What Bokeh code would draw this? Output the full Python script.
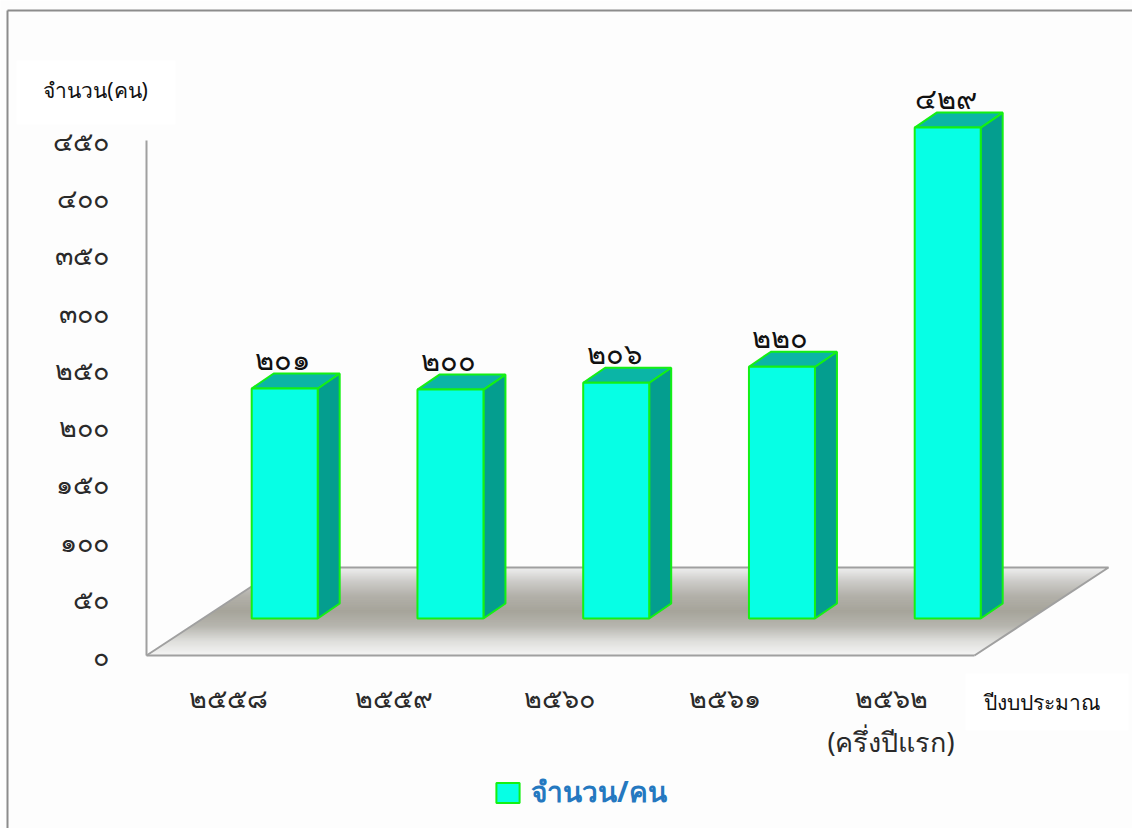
from bokeh.plotting import figure
from bokeh.embed import file_html
from bokeh.resources import INLINE
from bokeh.models import Range1d, FixedTicker, Legend, LegendItem, ColumnDataSource
from bokeh.core.properties import value as V

categories = ["๒๕๕๘", "๒๕๕๙", "๒๕๖๐", "๒๕๖๑", "๒๕๖๒\n(ครึ่งปีแรก)"]
counts = [201, 200, 206, 220, 429]
count_labels = ["๒๐๑", "๒๐๐", "๒๐๖", "๒๒๐", "๔๒๙"]
y_ticks = [0, 50, 100, 150, 200, 250, 300, 350, 400, 450]
y_tick_labels = ["๐", "๕๐", "๑๐๐", "๑๕๐", "๒๐๐", "๒๕๐", "๓๐๐", "๓๕๐", "๔๐๐", "๔๕๐"]
y_title = "จำนวน(คน)"
x_title = "ปีงบประมาณ"
legend_label = "จำนวน/คน"

FONT = "Noto Sans"
ORG_X, ORG_Y = 0, 0
W, H = 1132, 828
PX_X = 165.75      # pixels per category
PX_Y = 1.1444      # pixels per person
X0 = 227.5         # page x of first category label
Y0 = 655.0         # page y of value 0


def fx(px):
    return (px - X0) / PX_X


def fy(px):
    return (Y0 - px) / PX_Y


p = figure(width=W, height=H, output_backend="svg", toolbar_location=None,
           x_range=Range1d(fx(ORG_X), fx(ORG_X + W)), y_range=Range1d(fy(ORG_Y + H), fy(ORG_Y)),
           min_border=0, min_border_left=0, min_border_right=0, min_border_top=0, min_border_bottom=0)
p.grid.visible = False
p.outline_line_color = None
p.background_fill_color = "#fdfdfd"
p.border_fill_color = "#fdfdfd"

# page frame
p.line([fx(7), fx(7)], [fy(828), fy(10)], line_color="#8c8c8c", line_width=2)
p.line([fx(7), fx(1132)], [fy(10), fy(10)], line_color="#8c8c8c", line_width=2)

# white panels behind the axis titles
p.quad(left=[fx(16)], right=[fx(175)], top=[fy(60)], bottom=[fy(124)], fill_color="#ffffff", line_color=None)
p.quad(left=[fx(965)], right=[fx(1128)], top=[fy(673)], bottom=[fy(730)], fill_color="#ffffff", line_color=None)

# floor with vertical gradient, drawn as thin slices
stops = [(567, (238, 238, 238)), (580, (205, 204, 201)), (595, (178, 176, 169)), (610, (166, 164, 154)),
         (625, (182, 181, 174)), (640, (222, 222, 219)), (655, (246, 246, 246))]


def floor_colour(y):
    for (a, ca), (b, cb) in zip(stops, stops[1:]):
        if a <= y <= b:
            t = (y - a) / (b - a)
            return "#%02x%02x%02x" % tuple(round(u + (v - u) * t) for u, v in zip(ca, cb))
    return "#ffffff"


SK = 134 / 88
xs, ys, cs = [], [], []
for py in range(567, 655):
    left_top = 146 + (655 - py) * SK
    left_bot = 146 + (655 - py - 1) * SK
    right_top = 974 + (655 - py) * SK
    right_bot = 974 + (655 - py - 1) * SK
    xs.append([fx(left_top), fx(right_top), fx(right_bot), fx(left_bot)])
    ys.append([fy(py), fy(py), fy(py + 1.4), fy(py + 1.4)])
    cs.append(floor_colour(py))
p.patches(xs, ys, fill_color=cs, line_color=None)
p.line([fx(146), fx(280), fx(1108), fx(974)], [fy(655), fy(567), fy(567), fy(655)],
       line_color="#a0a0a0", line_width=2)

# bars
BASE = fy(618)
OFF = (284.2 - X0) / PX_X
HALF = 33.0 / PX_X
DX = 22 / PX_X
DY = 15 / PX_Y
centres = [i + OFF for i in range(len(counts))]
tops = [BASE + c for c in counts]
EDGE = "#14f014"
side_x = [[c + HALF, c + HALF + DX, c + HALF + DX, c + HALF] for c in centres]
side_y = [[BASE, BASE + DY, t + DY, t] for t in tops]
top_x = [[c - HALF, c - HALF + DX, c + HALF + DX, c + HALF] for c in centres]
top_y = [[t, t + DY, t + DY, t] for t in tops]
p.patches(side_x, side_y, fill_color="#049e8f", line_color=EDGE, line_width=2)
p.patches(top_x, top_y, fill_color="#0bb5a6", line_color=EDGE, line_width=2)
front = p.quad(left=[c - HALF for c in centres], right=[c + HALF for c in centres],
               top=tops, bottom=[BASE] * len(counts),
               fill_color="#06ffe5", line_color=EDGE, line_width=2)

src = ColumnDataSource(dict(x=[c - 2 / PX_X for c in centres], y=[t + DY + 15 / PX_Y for t in tops], t=count_labels))
p.text("x", "y", text="t", source=src, text_align="center", text_baseline="middle",
       text_font=V(FONT), text_font_size="29px", text_color="#111111")

# axes placed at the chart's own corner
p.yaxis.fixed_location = fx(146)
p.yaxis.bounds = (0, 450)
p.yaxis.ticker = FixedTicker(ticks=y_ticks)
p.yaxis.major_label_overrides = dict(zip(y_ticks, y_tick_labels))
p.yaxis.axis_line_color = "#a0a0a0"
p.yaxis.axis_line_width = 2
p.yaxis.major_tick_line_color = None
p.yaxis.minor_tick_line_color = None
p.yaxis.major_label_standoff = 32
p.yaxis.major_label_text_font = FONT
p.yaxis.major_label_text_font_size = "27px"
p.yaxis.major_label_text_color = "#2a2a2a"

p.xaxis.fixed_location = 0
p.xaxis.bounds = (fx(146), fx(974))
p.xaxis.ticker = FixedTicker(ticks=list(range(len(categories))))
p.xaxis.major_label_overrides = dict(zip(range(len(categories)), categories))
p.xaxis.axis_line_color = "#a0a0a0"
p.xaxis.axis_line_width = 2
p.xaxis.major_tick_line_color = None
p.xaxis.minor_tick_line_color = None
p.xaxis.major_label_standoff = 17
p.xaxis.major_label_text_font = FONT
p.xaxis.major_label_text_font_size = "27px"
p.xaxis.major_label_text_color = "#2a2a2a"

# axis titles
p.text([fx(95)], [fy(89)], text=[y_title], text_align="center", text_baseline="middle",
       text_font=V(FONT), text_font_size="21px", text_color="#111111")
p.text([fx(1041)], [fy(701)], text=[x_title], text_align="center", text_baseline="middle",
       text_font=V(FONT), text_font_size="21px", text_color="#111111")

legend = Legend(items=[LegendItem(label=legend_label, renderers=[front])], location=(493, 14),
                orientation="horizontal", background_fill_alpha=0, border_line_color=None,
                glyph_width=29, glyph_height=25, label_standoff=9, label_text_font=FONT, label_text_font_size="28px",
                label_text_font_style="bold", label_text_color="#2478c0", margin=0, padding=8)
p.add_layout(legend)

open("out.html", "w").write(file_html(p, INLINE))
